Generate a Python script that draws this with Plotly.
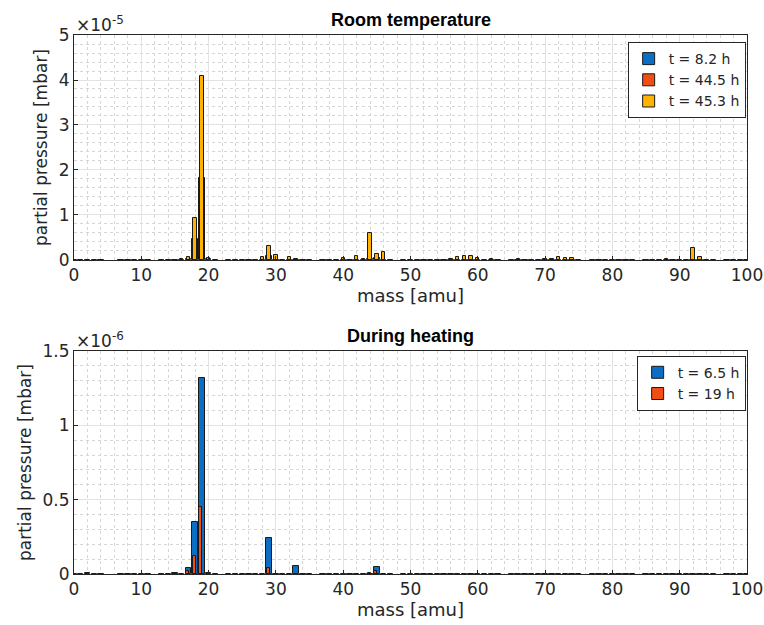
import plotly.graph_objects as go

# ---------------- data ----------------
# Room temperature, values in units of 1e-5 mbar
rt_mass_8h = [17, 18, 19, 20, 29, 44, 45]
rt_val_8h = [0.03, 0.47, 1.83, 0.02, 0.09, 0.03, 0.05]

rt_mass_44h = [18, 19, 20]
rt_val_44h = [0.03, 0.20, 0.02]

rt_mass_45h = [16, 17, 18, 19, 20, 28, 29, 30, 32, 33, 40, 42, 43, 44, 45, 46,
               52, 56, 57, 58, 59, 60, 62, 66, 70, 71, 72, 73, 74, 78, 86, 88,
               90, 92, 93]
rt_val_45h = [0.03, 0.07, 0.94, 4.10, 0.05, 0.07, 0.30, 0.11, 0.07, 0.02, 0.05,
              0.09, 0.03, 0.61, 0.13, 0.18, 0.01, 0.03, 0.07, 0.09, 0.09, 0.04,
              0.02, 0.02, 0.02, 0.03, 0.07, 0.05, 0.05, 0.01, 0.01, 0.03, 0.01,
              0.26, 0.06]

# During heating, values in units of 1e-6 mbar
dh_mass_6h = [2, 15, 17, 18, 19, 20, 29, 33, 45]
dh_val_6h = [0.01, 0.01, 0.04, 0.35, 1.32, 0.01, 0.24, 0.054, 0.05]

dh_mass_19h = [17, 18, 19, 29, 44, 45]
dh_val_19h = [0.02, 0.12, 0.45, 0.04, 0.01, 0.02]

# near-zero readings that show up as the black baseline
baseline_mass = [m for m in range(0, 101) if m not in (5, 6, 12, 22, 36, 48, 64, 76, 84, 96)]
baseline_top = 0.006
baseline_bot = 0.002

x_ticks = list(range(0, 101, 10))
top_y_ticks = [0, 1, 2, 3, 4, 5]
bot_y_ticks = [0, 0.5, 1, 1.5]
bot_y_labels = ["0", "0.5", "1", "1.5"]

labels_top = ["t = 8.2 h", "t = 44.5 h", "t = 45.3 h"]
labels_bot = ["t = 6.5 h", "t = 19 h"]

BLUE = "#0A6FC4"
RED = "#F04E12"
YEL = "#FFB300"
FONT = "DejaVu Sans"
TFONT = "Liberation Sans"
TXT = "#262626"


def merge(masses, vals, base):
    d = {m: base for m in baseline_mass}
    for m, v in zip(masses, vals):
        d[m] = v
    ks = sorted(d)
    return ks, [d[k] for k in ks]


fig = go.Figure()
line = dict(color="#1a1a1a", width=1)

bx, by = merge(rt_mass_8h, rt_val_8h, baseline_top)
fig.add_trace(go.Bar(x=bx, y=by, width=0.8, name=labels_top[0],
                     marker=dict(color=BLUE, line=line),
                     xaxis="x", yaxis="y", legend="legend"))
fig.add_trace(go.Bar(x=rt_mass_44h, y=rt_val_44h, width=0.55, name=labels_top[1],
                     marker=dict(color=RED, line=line),
                     xaxis="x", yaxis="y", legend="legend"))
fig.add_trace(go.Bar(x=rt_mass_45h, y=rt_val_45h, width=0.5, name=labels_top[2],
                     marker=dict(color=YEL, line=line),
                     xaxis="x", yaxis="y", legend="legend"))

bx2, by2 = merge(dh_mass_6h, dh_val_6h, baseline_bot)
fig.add_trace(go.Bar(x=bx2, y=by2, width=0.8, name=labels_bot[0],
                     marker=dict(color=BLUE, line=line),
                     xaxis="x2", yaxis="y2", legend="legend2"))
fig.add_trace(go.Bar(x=dh_mass_19h, y=dh_val_19h, width=0.45, offset=-0.38,
                     name=labels_bot[1],
                     marker=dict(color=RED, line=line),
                     xaxis="x2", yaxis="y2", legend="legend2"))

axis_common = dict(
    showline=True, mirror=True, linecolor=TXT, linewidth=1,
    showgrid=True, gridcolor="#e3e3e3", gridwidth=1,
    ticks="inside", ticklen=4, tickcolor=TXT,
    zeroline=False, automargin=False,
    tickfont=dict(family=FONT, size=17, color=TXT),
)

xa = dict(axis_common, range=[0, 100], tickvals=x_ticks,
          ticklabeloverflow="allow",
          minor=dict(dtick=2, showgrid=True, griddash="dot",
                     gridcolor="#d6d6d6", ticks=""))
xtitle = dict(text="mass [amu]", font=dict(family=FONT, size=18, color=TXT),
              standoff=3)
ytitle = dict(text="partial pressure [mbar]",
              font=dict(family=FONT, size=17, color=TXT), standoff=6)

fig.update_layout(
    width=764, height=625,
    margin=dict(l=74, r=17, t=35, b=51),
    paper_bgcolor="white", plot_bgcolor="white",
    barmode="overlay", bargap=0,
    font=dict(family=FONT, size=16, color=TXT),
    xaxis=dict(xa, domain=[0, 1], anchor="y", title=xtitle),
    yaxis=dict(axis_common, domain=[0.5826, 1], anchor="x", range=[0, 5],
               tickvals=top_y_ticks, title=ytitle,
               minor=dict(dtick=0.2, showgrid=True, griddash="dot",
                          gridcolor="#d6d6d6", ticks="")),
    xaxis2=dict(xa, domain=[0, 1], anchor="y2", title=xtitle),
    yaxis2=dict(axis_common, domain=[0, 0.4137], anchor="x2", range=[0, 1.5],
                tickvals=bot_y_ticks, ticktext=bot_y_labels, title=ytitle,
                minor=dict(dtick=0.1, showgrid=True, griddash="dot",
                           gridcolor="#d6d6d6", ticks="")),
    legend=dict(x=0.998, y=0.987, xref="paper", yref="paper",
                xanchor="right", yanchor="top",
                bgcolor="white", bordercolor=TXT, borderwidth=1,
                font=dict(family=FONT, size=14, color=TXT),
                tracegroupgap=0, itemwidth=30),
    legend2=dict(x=0.998, y=0.405, xref="paper", yref="paper",
                 xanchor="right", yanchor="top",
                 bgcolor="white", bordercolor=TXT, borderwidth=1,
                 font=dict(family=FONT, size=14, color=TXT),
                 tracegroupgap=0, itemwidth=30),
    showlegend=True,
)

annotations = [
    dict(text="<b>Room temperature</b>", x=0.5, y=1, xref="paper", yref="paper",
         xanchor="center", yanchor="bottom", yshift=3, showarrow=False,
         font=dict(family=TFONT, size=18, color="black")),
    dict(text="<b>During heating</b>", x=0.5, y=0.4137, xref="paper", yref="paper",
         xanchor="center", yanchor="bottom", yshift=3, showarrow=False,
         font=dict(family=TFONT, size=18, color="black")),
    dict(text="×10<sup>-5</sup>", x=0, y=1, xref="paper", yref="paper",
         xanchor="left", yanchor="bottom", yshift=-2, showarrow=False,
         font=dict(family=FONT, size=17, color=TXT)),
    dict(text="×10<sup>-6</sup>", x=0, y=0.4137, xref="paper", yref="paper",
         xanchor="left", yanchor="bottom", yshift=-2, showarrow=False,
         font=dict(family=FONT, size=17, color=TXT)),
]
fig.update_layout(annotations=annotations)

fig.write_html("out.html")
